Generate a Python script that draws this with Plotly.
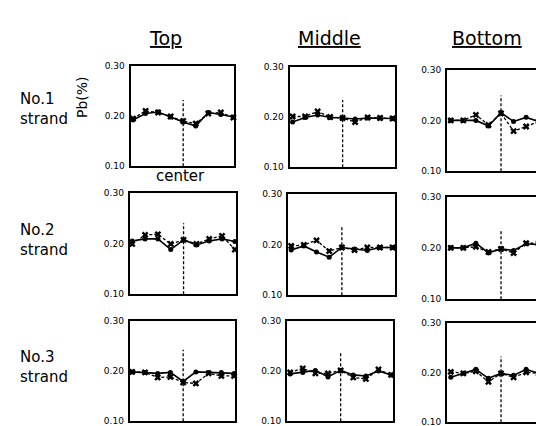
import plotly.graph_objects as go

# ---------------- data ----------------
strands = ["No.1", "No.2", "No.3"]
sections = ["Top", "Middle", "Bottom"]
positions = [0, 1, 2, 3, 4, 5, 6, 7, 8]
center_pos = 4
y_min, y_max = 0.10, 0.30
y_ticks = [0.10, 0.20, 0.30]
y_tick_labels = ["0.10", "0.20", "0.30"]

# solid line with dots, dashed line with crosses (Pb %)
dots_1_top = [0.192, 0.205, 0.208, 0.198, 0.188, 0.180, 0.207, 0.203, 0.198]
cross_1_top = [0.195, 0.210, 0.207, 0.199, 0.190, 0.185, 0.205, 0.207, 0.197]
dots_1_mid = [0.190, 0.199, 0.204, 0.199, 0.198, 0.196, 0.198, 0.198, 0.197]
cross_1_mid = [0.201, 0.201, 0.211, 0.200, 0.198, 0.190, 0.199, 0.198, 0.197]
dots_1_bot = [0.200, 0.200, 0.200, 0.189, 0.215, 0.198, 0.206, 0.198, 0.198]
cross_1_bot = [0.200, 0.200, 0.211, 0.191, 0.214, 0.179, 0.188, 0.198, 0.198]

dots_2_top = [0.205, 0.209, 0.209, 0.188, 0.207, 0.197, 0.205, 0.209, 0.204]
cross_2_top = [0.199, 0.217, 0.218, 0.199, 0.207, 0.199, 0.209, 0.215, 0.188]
dots_2_mid = [0.189, 0.197, 0.185, 0.175, 0.194, 0.191, 0.188, 0.194, 0.194]
cross_2_mid = [0.197, 0.199, 0.208, 0.187, 0.194, 0.189, 0.194, 0.194, 0.194]
dots_2_bot = [0.200, 0.200, 0.209, 0.190, 0.198, 0.195, 0.208, 0.206, 0.192]
cross_2_bot = [0.200, 0.200, 0.202, 0.192, 0.198, 0.190, 0.209, 0.209, 0.200]

dots_3_top = [0.198, 0.197, 0.195, 0.197, 0.179, 0.198, 0.197, 0.197, 0.195]
cross_3_top = [0.198, 0.197, 0.187, 0.188, 0.177, 0.175, 0.195, 0.190, 0.190]
dots_3_mid = [0.194, 0.197, 0.201, 0.188, 0.201, 0.192, 0.190, 0.200, 0.192]
cross_3_mid = [0.197, 0.205, 0.195, 0.195, 0.201, 0.187, 0.184, 0.203, 0.192]
dots_3_bot = [0.190, 0.198, 0.206, 0.188, 0.198, 0.194, 0.206, 0.198, 0.198]
cross_3_bot = [0.201, 0.198, 0.202, 0.181, 0.198, 0.190, 0.200, 0.198, 0.196]

# height reached by the dashed "center" marker line in each panel
center_top = [0.232, 0.234, 0.249,
              0.240, 0.236, 0.235,
              0.242, 0.235, 0.232]

dots = [dots_1_top, dots_1_mid, dots_1_bot,
        dots_2_top, dots_2_mid, dots_2_bot,
        dots_3_top, dots_3_mid, dots_3_bot]
crosses = [cross_1_top, cross_1_mid, cross_1_bot,
           cross_2_top, cross_2_mid, cross_2_bot,
           cross_3_top, cross_3_mid, cross_3_bot]

# ---------------- layout (pixels) ----------------
W, H = 544, 426
# left, right, top, bottom in pixels
boxes = [
    (122.5, 226.0, 54, 157), (281.5, 386.5, 55, 158), (439.0, 544.0, 58, 162),
    (121.7, 227.5, 184, 288), (280.0, 386.5, 185, 289), (439.0, 544.0, 188, 293),
    (121.7, 226.7, 315, 418), (279.0, 385.0, 315, 418), (439.0, 544.0, 317, 419),
]
x_ranges = [[-0.2, 8.05], [-0.25, 8.15], [-0.3, 8.06]]

fig = go.Figure()
layout = dict(width=W, height=H, margin=dict(l=0, r=0, t=0, b=0),
              paper_bgcolor="white", plot_bgcolor="white", showlegend=False)

for i in range(9):
    col = i % 3
    n = i + 1
    xs = "x" if n == 1 else f"x{n}"
    ys = "y" if n == 1 else f"y{n}"
    l, r, t, b = boxes[i]
    layout["xaxis" if n == 1 else f"xaxis{n}"] = dict(
        domain=[l / W, min(r / W, 1.0)], range=x_ranges[col],
        showline=True, linecolor="black", linewidth=2, mirror=True,
        showgrid=False, zeroline=False, showticklabels=False, ticks="",
        anchor=ys, fixedrange=True)
    layout["yaxis" if n == 1 else f"yaxis{n}"] = dict(
        domain=[1 - b / H, 1 - t / H], range=[y_min, y_max],
        showline=True, linecolor="black", linewidth=2,
        mirror=(col != 2),
        showgrid=False, zeroline=False, ticks="",
        tickvals=y_ticks, ticktext=y_tick_labels,
        tickfont=dict(family="DejaVu Sans", size=9, color="black"),
        ticklabelstandoff=2,
        anchor=xs, fixedrange=True)

    # center dashed line
    fig.add_trace(go.Scatter(
        x=[center_pos, center_pos], y=[y_min, center_top[i]], mode="lines",
        line=dict(color="black", width=1.3, dash="3px,2px"),
        xaxis=xs, yaxis=ys, hoverinfo="skip"))
    # crosses, dashed
    fig.add_trace(go.Scatter(
        x=positions, y=crosses[i], mode="lines+markers",
        line=dict(color="black", width=1.3, dash="3px,2px"),
        marker=dict(symbol="x", size=6, color="black"),
        xaxis=xs, yaxis=ys, cliponaxis=False))
    # dots, solid
    fig.add_trace(go.Scatter(
        x=positions, y=dots[i], mode="lines+markers",
        line=dict(color="black", width=1.6),
        marker=dict(symbol="circle", size=5, color="black"),
        xaxis=xs, yaxis=ys, cliponaxis=False))

fig.update_layout(**layout)

ann = []
head_x = [157, 321, 479]
for name, hx in zip(sections, head_x):
    ann.append(dict(x=hx / W, y=1 - 26 / H, xref="paper", yref="paper",
                    text=name, showarrow=False, xanchor="center", yanchor="middle",
                    font=dict(family="DejaVu Sans", size=19, color="black",
                              lineposition="under")))

row_y = [98, 232, 363]
for name, yc in zip(strands, row_y):
    ann.append(dict(x=10 / W, y=1 - yc / H, xref="paper", yref="paper",
                    text=name + "<br>strand", align="left", showarrow=False,
                    xanchor="left", yanchor="middle",
                    font=dict(family="DejaVu Sans", size=15, color="black")))

ann.append(dict(x=74 / W, y=1 - 86 / H, xref="paper", yref="paper",
                text="Pb(%)", textangle=-90, showarrow=False,
                xanchor="center", yanchor="middle",
                font=dict(family="DejaVu Sans", size=14, color="black")))
ann.append(dict(x=172 / W, y=1 - 167 / H, xref="paper", yref="paper",
                text="center", showarrow=False, xanchor="center", yanchor="middle",
                font=dict(family="DejaVu Sans", size=15, color="black")))

fig.update_layout(annotations=ann)
fig.write_html("out.html")
